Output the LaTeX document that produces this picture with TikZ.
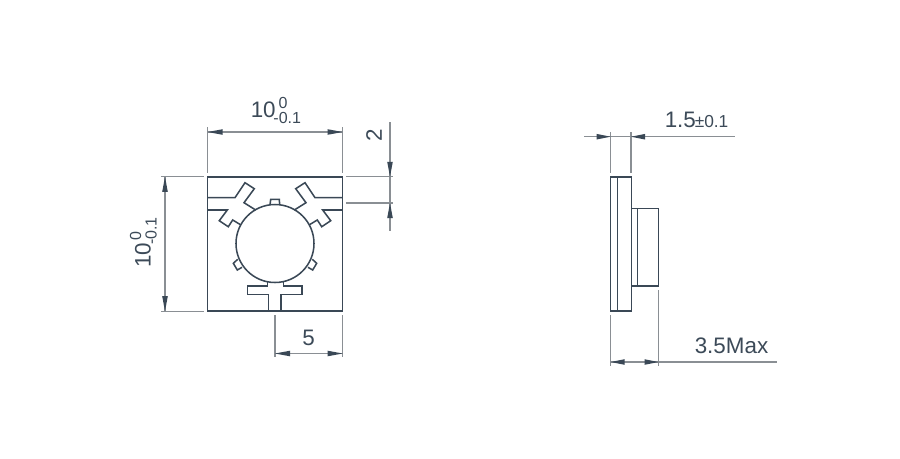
\documentclass[tikz,border=0pt]{standalone}
\usepackage{fontspec}
\setmainfont{Liberation Sans}
\definecolor{ink}{HTML}{3A4856}
\definecolor{dimc}{HTML}{8A8F94}
\definecolor{txt}{HTML}{3C4A58}
\tikzset{
  part/.style={draw=ink,line width=1.15pt,line join=miter},
  ext/.style={draw=dimc,line width=0.8pt},
  dimline/.style={draw=dimc,line width=0.8pt},
  big/.style={text=txt,inner sep=0pt,font=\fontsize{16.8}{18}\selectfont},
  small/.style={text=txt,inner sep=0pt,font=\fontsize{12}{14}\selectfont},
  mid/.style={text=txt,inner sep=0pt,font=\fontsize{13}{15}\selectfont},
}
% #1 = tip point, horizontal tip: #2 = signed length towards the tail
\newcommand{\tipH}[2]{\fill[ink] #1 -- ++(#2,-2.8) -- ++(0,5.6) -- cycle;}
\newcommand{\tipV}[2]{\fill[ink] #1 -- ++(-2.8,#2) -- ++(5.6,0) -- cycle;}
\begin{document}
\begin{tikzpicture}[x=0.75pt,y=-0.75pt]
\useasboundingbox (0,0) rectangle (900,458);
% front view
\draw[part] (207.6,176.8) rectangle (342.6,311.2);
\draw[part] (275,243.5) circle[radius=39];
% left cross
\draw[part] (207.6,197.7) -- (235,197.7) -- (245,182.7) -- (254.3,188.7) -- (244,202.7) -- (255.7,210);
\draw[part] (207.6,210) -- (227.3,210) -- (219.3,220.7) -- (228.3,226.7) -- (232.7,220) -- (241,225);
% right cross
\draw[part] (342.6,197.7) -- (315,197.7) -- (305,182.7) -- (295.7,188.7) -- (306,202.7) -- (294.3,210);
\draw[part] (342.6,210) -- (322.7,210) -- (330.7,220.7) -- (321.7,226.7) -- (317.3,220) -- (309,225);
% top notch
\draw[part] (270,204.8) -- (270.7,199.3) -- (279.3,199.3) -- (279.7,204.8);
% small notches
\draw[part] (237.7,259.3) -- (233.3,263.3) -- (237.3,270) -- (242,267.3);
\draw[part] (312.3,259.3) -- (316.7,263.3) -- (312.7,270) -- (308,267.3);
% T slot
\draw[part] (267.3,282.3) -- (267.3,286) -- (247.7,286) -- (247.7,294.7) -- (268.7,294.7) -- (268.7,311.2);
\draw[part] (281,311.2) -- (281,294.7) -- (302,294.7) -- (302,286) -- (283.3,286) -- (283.3,282.3);
% top dim
\draw[ext] (207.6,127) -- (207.6,172.7);
\draw[ext] (342.6,127) -- (342.6,172.7);
\draw[dimline] (207.6,132) -- (342.6,132);
\tipH{(207.6,132)}{15}
\tipH{(342.6,132)}{-15}
\node[big,anchor=base west] (a1) at (250.5,117) {10};
\node[small,anchor=base west] (a2) at (278.3,108) {0};
\node[small,anchor=base west] (a3) at (273.2,123.5) {-0.1};
% right dim 2
\draw[ext] (346,176.8) -- (393,176.8);
\draw[ext] (346,203) -- (393,203);
\draw[dimline] (390,122) -- (390,231);
\tipV{(390,176.8)}{-15}
\tipV{(390,203)}{15}
\node[big,rotate=90] (b1) at (374,135.5) {2};
% left dim
\draw[ext] (161,176.8) -- (204,176.8);
\draw[ext] (161,311.2) -- (204,311.2);
\draw[dimline] (165,176.8) -- (165,311.2);
\tipV{(165,176.8)}{15}
\tipV{(165,311.2)}{-15}
\node[big,rotate=90,anchor=base west] (c1) at (150.5,268) {10};
\node[small,rotate=90,anchor=base west] (c2) at (141,240.7) {0};
\node[small,rotate=90,anchor=base west] (c3) at (156.5,245) {-0.1};
% bottom dim
\draw[ext] (275,315) -- (275,357);
\draw[ext] (342.6,315) -- (342.6,357);
\draw[dimline] (275,353.5) -- (342.6,353.5);
\tipH{(275,353.5)}{15}
\tipH{(342.6,353.5)}{-15}
\node[big] (d1) at (308.5,337.5) {5};
% side view
\draw[part] (610.7,176.8) rectangle (631.3,311.2);
\draw[part] (617.7,176.8) -- (617.7,311.2);
\draw[part] (631.3,208.3) rectangle (658.5,286);
\draw[part] (637.7,208.3) -- (637.7,286);
% 1.5 dim
\draw[ext] (610.7,132) -- (610.7,173);
\draw[ext] (631,132) -- (631,173);
\draw[dimline] (584,136.7) -- (735,136.7);
\tipH{(610.7,136.7)}{-14}
\tipH{(631,136.7)}{14}
\node[big,anchor=base west] (e1) at (664.5,127) {1.5};
\node[mid,anchor=base west] (e2) at (694.5,127) {±0.1};
% 3.5 dim
\draw[ext] (610.7,315) -- (610.7,366);
\draw[ext] (658.5,290) -- (658.5,366);
\draw[dimline] (610.7,362) -- (777,362);
\tipH{(610.7,362)}{14}
\tipH{(658.5,362)}{-14}
\node[big,anchor=base west] (f1) at (694.5,353.5) {3.5Max};
\end{tikzpicture}
\end{document}
